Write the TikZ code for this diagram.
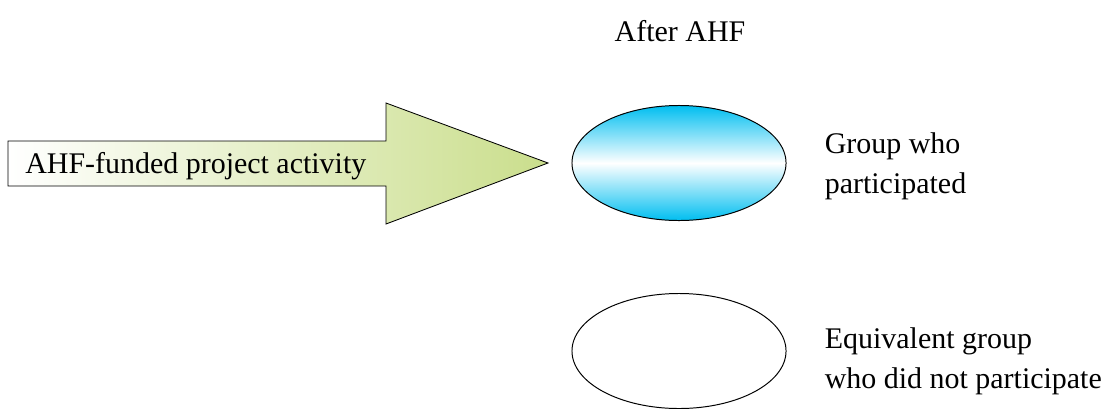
\documentclass[tikz,border=0pt]{standalone}
\usepackage{fontspec}
\setmainfont{Liberation Serif}
\usepackage{xcolor}
\usepackage{tikz}
\usetikzlibrary{shapes.geometric, positioning, arrows.meta}

\definecolor{arrowgreen}{RGB}{202,222,140}
\definecolor{groupcyan}{RGB}{0,190,240}

\begin{document}
\begin{tikzpicture}[
        x=0.025cm, y=-0.025cm,
        % Style for the two group ellipses
        group/.style={
            draw,
            ellipse,
            inner sep=0pt,
            minimum width=5.35cm,
            minimum height=2.875cm,
            line width=0.7pt
        },
        % Style for the side texts
        caption/.style={
            inner sep=0pt,
            align=left,
            font=\fontsize{21.3}{28.4}\selectfont
        },
        >=Stealth,
        node distance=0.95cm
    ]

    \useasboundingbox (0,0) rectangle (1108,408);

    % ==========================================
    % PROJECT ACTIVITY ARROW
    % ==========================================

    % Big block arrow, shaded from white to green
    \draw[line width=0.6pt, left color=white, right color=arrowgreen]
        (8,141) -- (386,141) -- (386,103) -- (548,163)
        -- (386,224) -- (386,186) -- (8,186) -- cycle;

    % Arrow text
    \node[caption, anchor=west] (activity) at (25,166) {AHF-funded project activity};


    % ==========================================
    % GROUPS AFTER AHF
    % ==========================================

    \node[caption] (after_label) at (680,31) {After AHF};

    % Group who took part (shaded)
    \node[group, top color=groupcyan, bottom color=groupcyan, middle color=white]
        (grp_after) at (679,163) {};
    % Equivalent group (empty)
    \node[group] (eq_after) at (679,351) {};

    % Side texts
    \node[caption, right=of grp_after, yshift=-0.08cm] (grp_label) {Group who\\participated};
    \node[caption, right=of eq_after, yshift=-0.26cm] (eq_label) {Equivalent group\\who did not participate};

\end{tikzpicture}
\end{document}
